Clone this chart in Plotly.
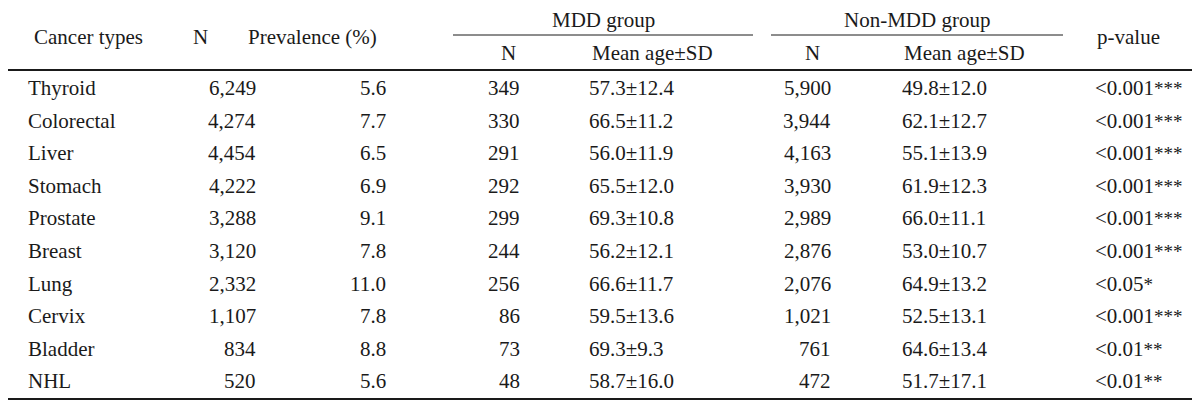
import plotly.graph_objects as go

cancer_types = ["Thyroid", "Colorectal", "Liver", "Stomach", "Prostate",
                "Breast", "Lung", "Cervix", "Bladder", "NHL"]
total_n = [6249, 4274, 4454, 4222, 3288, 3120, 2332, 1107, 834, 520]
prevalence = [5.6, 7.7, 6.5, 6.9, 9.1, 7.8, 11.0, 7.8, 8.8, 5.6]
mdd_n = [349, 330, 291, 292, 299, 244, 256, 86, 73, 48]
mdd_mean = [57.3, 66.5, 56.0, 65.5, 69.3, 56.2, 66.6, 59.5, 69.3, 58.7]
mdd_sd = [12.4, 11.2, 11.9, 12.0, 10.8, 12.1, 11.7, 13.6, 9.3, 16.0]
non_n = [5900, 3944, 4163, 3930, 2989, 2876, 2076, 1021, 761, 472]
non_mean = [49.8, 62.1, 55.1, 61.9, 66.0, 53.0, 64.9, 52.5, 64.6, 51.7]
non_sd = [12.0, 12.7, 13.9, 12.3, 11.1, 10.7, 13.2, 13.1, 13.4, 17.1]
p_values = ["<0.001", "<0.001", "<0.001", "<0.001", "<0.001",
            "<0.001", "<0.05", "<0.001", "<0.01", "<0.01"]
p_stars = ["***", "***", "***", "***", "***", "***", "*", "***", "**", "**"]

FONT = "Liberation Serif, Times New Roman, serif"
FS = 21
INK = "#1a1a1a"

# the page body has an 8px margin, so shift the axis ranges to compensate
PAD = 8

# row positions (axis units = screen pixels, y reversed)
row_y0, row_step = 88, 32.6
hdr_top, hdr_bot, hdr_mid = 20, 53, 37

fig = go.Figure()
ann = []


def txt(x, y, s, anchor="center"):
    ann.append(dict(x=x, y=y, text=s, xanchor=anchor, yanchor="middle",
                    showarrow=False, font=dict(family=FONT, size=FS, color=INK)))


# header
txt(88, hdr_mid, "Cancer types")
txt(200, hdr_mid, "N")
txt(312, hdr_mid, "Prevalence (%)")
txt(603, hdr_top, "MDD group")
txt(917, hdr_top, "Non-MDD group")
txt(508, hdr_bot, "N")
txt(652, hdr_bot, "Mean age±SD")
txt(812, hdr_bot, "N")
txt(964, hdr_bot, "Mean age±SD")
txt(1128, hdr_mid, "p-value")

star_style = f"font-size:19px;color:{INK}"
for i, c in enumerate(cancer_types):
    y = row_y0 + row_step * i
    txt(26, y, c, "left")
    txt(258, y, f"{total_n[i]:,}", "right")
    txt(388, y, f"{prevalence[i]:.1f}", "right")
    txt(522, y, f"{mdd_n[i]:,}", "right")
    txt(587, y, f"{mdd_mean[i]:.1f}±{mdd_sd[i]:.1f}", "left")
    txt(833, y, f"{non_n[i]:,}", "right")
    txt(900, y, f"{non_mean[i]:.1f}±{non_sd[i]:.1f}", "left")
    txt(1093, y, f"{p_values[i]}<span style='{star_style}'>{p_stars[i]}</span>", "left")

rules = [(4, 5, 1195, 2.2), (70, 5, 1195, 2.2), (399, 5, 1195, 2.2),
         (35, 453, 753, 1), (35, 771, 1063, 1)]
shapes = [dict(type="line", x0=a, x1=b, y0=y, y1=y,
               line=dict(color=INK, width=w)) for y, a, b, w in rules]

fig.update_layout(
    width=1200, height=405,
    margin=dict(l=0, r=0, t=0, b=0),
    paper_bgcolor="white", plot_bgcolor="white",
    xaxis=dict(range=[PAD, 1200 + PAD], visible=False, fixedrange=True),
    yaxis=dict(range=[405 + PAD, PAD], visible=False, fixedrange=True),
    annotations=ann, shapes=shapes, showlegend=False,
)

fig.write_html("out.html")
